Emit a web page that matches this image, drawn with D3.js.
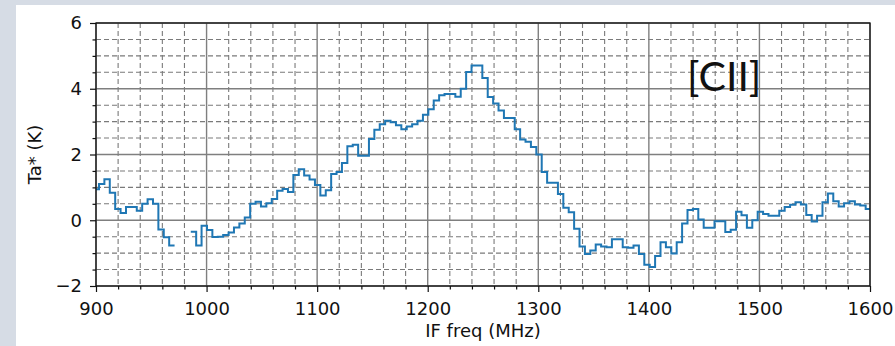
<!DOCTYPE html>
<html>
<head>
<meta charset="utf-8">
<script src="https://cdn.jsdelivr.net/npm/d3@7"></script>
<style>
  html, body { margin: 0; padding: 0; background: #d6dce5; }
  svg { display: block; }
  text { font-family: "DejaVu Sans", sans-serif; fill: #111; }
</style>
</head>
<body>
<svg id="chart" width="895" height="346"></svg>
<script>
// spectrum channels: centre of first channel and channel width (MHz)
var chanStart = 900.26
var chanWidth = 4.883

// Ta* (K) per channel, null where the channel is blanked
var taValues = [
  0.94, 1.10, 1.25, 0.84, 0.34, 0.22, 0.40, 0.40, 0.29, 0.50,
  0.64, 0.50, -0.28, -0.52, -0.77, null, null, null, -0.35, -0.77,
  -0.17, -0.30, -0.51, -0.50, -0.45, -0.37, -0.22, -0.10, 0.08, 0.50,
  0.56, 0.42, 0.52, 0.65, 0.90, 0.95, 0.86, 1.38, 1.55, 1.36,
  1.24, 1.07, 0.75, 0.91, 1.41, 1.47, 1.74, 2.25, 2.30, 1.96,
  1.96, 2.47, 2.75, 2.92, 3.03, 2.98, 2.89, 2.77, 2.85, 2.92,
  3.03, 3.21, 3.38, 3.64, 3.80, 3.84, 3.84, 3.76, 4.00, 4.51,
  4.71, 4.71, 4.33, 3.75, 3.55, 3.34, 3.11, 3.11, 2.77, 2.46,
  2.39, 2.23, 2.00, 1.47, 1.14, 1.14, 0.80, 0.38, 0.24, -0.26,
  -0.80, -1.03, -0.92, -0.74, -0.80, -0.82, -0.58, -0.58, -0.82, -0.84,
  -0.77, -1.03, -1.35, -1.42, -1.09, -0.67, -0.82, -1.01, -0.67, -0.10,
  0.31, 0.34, 0.02, -0.23, -0.23, -0.03, -0.03, -0.36, -0.29, 0.26,
  0.15, -0.23, 0.00, 0.26, 0.19, 0.14, 0.14, 0.29, 0.40, 0.47,
  0.55, 0.48, 0.16, -0.04, 0.14, 0.55, 0.81, 0.58, 0.42, 0.52,
  0.58, 0.48, 0.45, 0.34
]

var xMajor = [900, 1000, 1100, 1200, 1300, 1400, 1500, 1600]
var yMajor = [-2, 0, 2, 4, 6]

var svg = d3.select('#chart')

// white slide area behind the figure
svg.append('rect')
  .attr('x', 16).attr('y', 5)
  .attr('width', 879).attr('height', 341)
  .attr('fill', '#fff')

var pLeft = 96, pRight = 870, pTop = 23, pBottom = 286

var x = d3.scaleLinear().domain([900, 1600]).range([pLeft, pRight])
var y = d3.scaleLinear().domain([-2, 6]).range([pBottom, pTop])

var xMinor = d3.range(900, 1601, 20).filter(function(v) { return v % 100 !== 0 })
var yMinor = d3.range(-2, 6.01, 0.5).filter(function(v) { return v % 2 !== 0 })

var grid = svg.append('g')

grid.selectAll('.vminor').data(xMinor).enter().append('line')
  .attr('x1', function(d) { return x(d) }).attr('x2', function(d) { return x(d) })
  .attr('y1', pTop).attr('y2', pBottom)
  .attr('stroke', '#7a7a7a').attr('stroke-width', 1.1).attr('stroke-dasharray', '5,3')

grid.selectAll('.hminor').data(yMinor).enter().append('line')
  .attr('x1', pLeft).attr('x2', pRight)
  .attr('y1', function(d) { return y(d) }).attr('y2', function(d) { return y(d) })
  .attr('stroke', '#7a7a7a').attr('stroke-width', 1.1).attr('stroke-dasharray', '5,3')

grid.selectAll('.vmajor').data(xMajor).enter().append('line')
  .attr('x1', function(d) { return x(d) }).attr('x2', function(d) { return x(d) })
  .attr('y1', pTop).attr('y2', pBottom)
  .attr('stroke', '#7f7f7f').attr('stroke-width', 1.4)

grid.selectAll('.hmajor').data(yMajor).enter().append('line')
  .attr('x1', pLeft).attr('x2', pRight)
  .attr('y1', function(d) { return y(d) }).attr('y2', function(d) { return y(d) })
  .attr('stroke', '#7f7f7f').attr('stroke-width', 1.4)

// steps-mid trace
var steps = []
taValues.forEach(function(v, i) {
  var f = chanStart + i * chanWidth
  steps.push({ f: f - chanWidth / 2, v: v })
  steps.push({ f: f + chanWidth / 2, v: v })
})

svg.append('clipPath').attr('id', 'plot-clip')
  .append('rect').attr('x', pLeft).attr('y', pTop)
  .attr('width', pRight - pLeft).attr('height', pBottom - pTop)

var line = d3.line()
  .defined(function(d) { return d.v !== null })
  .x(function(d) { return x(d.f) })
  .y(function(d) { return y(d.v) })

svg.append('path')
  .datum(steps)
  .attr('clip-path', 'url(#plot-clip)')
  .attr('d', line)
  .attr('fill', 'none')
  .attr('stroke', '#1f77b4')
  .attr('stroke-width', 2)
  .attr('stroke-linejoin', 'miter')

// axes
var xAxis = d3.axisBottom(x).tickValues(xMajor).tickSize(6).tickPadding(10)
  .tickFormat(d3.format('d'))
var yAxis = d3.axisLeft(y).tickValues(yMajor).tickSize(6).tickPadding(8)
  .tickFormat(function(d) { return d < 0 ? '\u2212' + Math.abs(d) : d })

svg.append('g').attr('transform', 'translate(0,' + pBottom + ')').call(xAxis)
svg.append('g').attr('transform', 'translate(' + pLeft + ',0)').call(yAxis)

svg.append('g').attr('transform', 'translate(0,' + pBottom + ')')
  .call(d3.axisBottom(x).tickValues(xMinor).tickSize(3.5).tickFormat(''))
svg.append('g').attr('transform', 'translate(' + pLeft + ',0)')
  .call(d3.axisLeft(y).tickValues(yMinor).tickSize(3.5).tickFormat(''))

svg.selectAll('.domain').remove()
svg.selectAll('.tick line').attr('stroke', '#111').attr('stroke-width', 1.2)
svg.selectAll('.tick text')
  .style('font-family', '"DejaVu Sans", sans-serif')
  .style('font-size', '18px')
  .attr('fill', '#111')

svg.append('rect')
  .attr('x', pLeft).attr('y', pTop)
  .attr('width', pRight - pLeft).attr('height', pBottom - pTop)
  .attr('fill', 'none').attr('stroke', '#111').attr('stroke-width', 1.3)

svg.append('text')
  .attr('x', (pLeft + pRight) / 2).attr('y', 337)
  .attr('text-anchor', 'middle')
  .style('font-size', '18px')
  .text('IF freq (MHz)')

svg.append('text')
  .attr('transform', 'translate(41,' + (pTop + pBottom) / 2 + ') rotate(-90)')
  .attr('text-anchor', 'middle')
  .style('font-size', '18px')
  .text('Ta* (K)')

svg.append('text')
  .attr('x', 687).attr('y', 91)
  .style('font-family', 'Lato, "Open Sans", sans-serif')
  .style('font-size', '41px')
  .attr('fill', '#000')
  .text('[CII]')
</script>
</body>
</html>
